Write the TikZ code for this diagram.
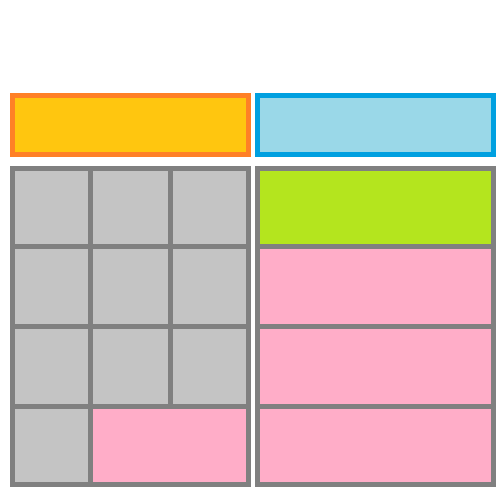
\documentclass[tikz,border=0pt]{standalone}
\usetikzlibrary{fit}
\definecolor{orangeB}{RGB}{255,128,38}
\definecolor{yellowF}{RGB}{255,198,15}
\definecolor{blueB}{RGB}{0,160,224}
\definecolor{blueF}{RGB}{154,216,232}
\definecolor{greyB}{RGB}{128,128,128}
\definecolor{greyF}{RGB}{196,196,196}
\definecolor{greenF}{RGB}{180,229,30}
\definecolor{pinkF}{RGB}{255,173,200}
\begin{document}
\begin{tikzpicture}[x=1pt,y=-1pt,
  box/.style={rectangle, inner sep=0pt, outer sep=0pt, line width=5pt},
  graycell/.style={box, draw=greyB, fill=greyF},
  pinkcell/.style={box, draw=greyB, fill=pinkF},
  greencell/.style={box, draw=greyB, fill=greenF},
  orangehead/.style={box, draw=orangeB, fill=yellowF},
  bluehead/.style={box, draw=blueB, fill=blueF}]
\useasboundingbox (0,0) rectangle (500,500);
% headers
\node[orangehead, fit={(12.5,95.5) (248.5,154.5)}] (hl) {};
\node[bluehead, fit={(257.5,95.5) (493.5,154.5)}] (hr) {};
% left grid
\node[graycell, fit={(12.5,168.5) (90,246.5)}] (a11) {};
\node[graycell, fit={(90,168.5) (170,246.5)}] (a12) {};
\node[graycell, fit={(170,168.5) (248.5,246.5)}] (a13) {};
\node[graycell, fit={(12.5,246.5) (90,326.5)}] (a21) {};
\node[graycell, fit={(90,246.5) (170,326.5)}] (a22) {};
\node[graycell, fit={(170,246.5) (248.5,326.5)}] (a23) {};
\node[graycell, fit={(12.5,326.5) (90,406.5)}] (a31) {};
\node[graycell, fit={(90,326.5) (170,406.5)}] (a32) {};
\node[graycell, fit={(170,326.5) (248.5,406.5)}] (a33) {};
\node[graycell, fit={(12.5,406.5) (90,484.5)}] (a41) {};
\node[pinkcell, fit={(90,406.5) (248.5,484.5)}] (a42) {};
% right grid
\node[greencell, fit={(257.5,168.5) (493.5,246.5)}] (b1) {};
\node[pinkcell, fit={(257.5,246.5) (493.5,326.5)}] (b2) {};
\node[pinkcell, fit={(257.5,326.5) (493.5,406.5)}] (b3) {};
\node[pinkcell, fit={(257.5,406.5) (493.5,484.5)}] (b4) {};
\end{tikzpicture}
\end{document}
